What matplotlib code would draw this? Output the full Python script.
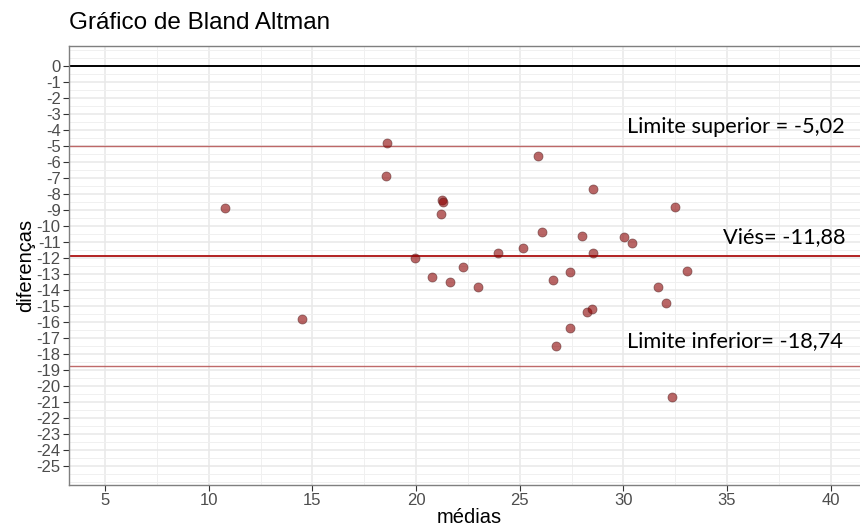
import numpy as np
import matplotlib.pyplot as plt
from matplotlib.ticker import MultipleLocator

plt.rcParams['axes.unicode_minus'] = False

# data
medias = [10.79, 14.49, 18.59, 18.54, 19.97, 20.77, 21.26, 21.28, 21.22, 21.64,
          22.27, 23.0, 23.94, 25.18, 25.87, 26.09, 26.59, 27.45, 27.99, 28.52,
          28.52, 30.05, 30.44, 32.5, 31.69, 33.07, 32.08, 28.26, 28.5, 27.41,
          26.74, 32.33]
diferencas = [-8.87, -15.8, -4.81, -6.89, -12.0, -13.19, -8.35, -8.5, -9.27, -13.5,
              -12.6, -13.79, -11.7, -11.4, -5.6, -10.4, -13.38, -12.9, -10.6, -11.7,
              -7.7, -10.7, -11.08, -8.79, -13.8, -12.8, -14.8, -15.4, -15.2, -16.4,
              -17.5, -20.7]
vies = -11.88
lim_sup = -5.02
lim_inf = -18.74

fig = plt.figure(figsize=(8.6, 5.31), dpi=100)
ax = fig.add_axes([69 / 860, 1 - 485 / 531, 800 / 860, 439 / 531])

ax.set_xlim(3.26, 41.85)
ax.set_ylim(-26.2, 1.25)
ax.xaxis.set_major_locator(MultipleLocator(5))
ax.xaxis.set_minor_locator(MultipleLocator(2.5))
ax.yaxis.set_major_locator(MultipleLocator(1))
ax.yaxis.set_minor_locator(MultipleLocator(0.5))
ax.set_yticks(np.arange(-25, 1, 1))

ax.grid(which='major', color='#E8E8E8', linewidth=1.1)
ax.grid(which='minor', color='#F0F0F0', linewidth=0.7)
ax.set_axisbelow(True)

for s in ax.spines.values():
    s.set_color('#7F7F7F')
    s.set_linewidth(1.0)

ax.tick_params(which='major', length=4, color='#333333', labelcolor='#4D4D4D',
               labelsize=12, pad=2)
ax.tick_params(which='minor', length=0)
for lab in ax.get_xticklabels() + ax.get_yticklabels():
    lab.set_fontfamily('Liberation Sans')

ax.axhline(0, color='black', linewidth=1.4)
ax.axhline(lim_sup, color='#B85A5A', linewidth=1.0, alpha=0.9)
ax.axhline(vies, color='#B22222', linewidth=1.4)
ax.axhline(lim_inf, color='#B85A5A', linewidth=1.0, alpha=0.9)

ax.scatter(medias, diferencas, s=42, color='#8B0000', alpha=0.6,
           edgecolors='#5A2A2A', linewidths=0.6, zorder=3)

tf = dict(fontfamily='Lato', fontsize=15.7, color='black', va='baseline', ha='left')
ax.text(30.18, -4.19, 'Limite superior = -5,02', **tf)
ax.text(34.8, -11.1, 'Viés= -11,88', **tf)
ax.text(30.18, -17.6, 'Limite inferior= -18,74', **tf)

ax.set_xlabel('médias', fontfamily='Liberation Sans', fontsize=14.5, labelpad=0)
ax.set_ylabel('diferenças', fontfamily='Liberation Sans', fontsize=14.5, labelpad=1)
fig.text(69 / 860, 1 - 29 / 531, 'Gráfico de Bland Altman',
         fontfamily='Liberation Sans', fontsize=17.5, ha='left', va='baseline')

fig.savefig('out.png', dpi=100)
